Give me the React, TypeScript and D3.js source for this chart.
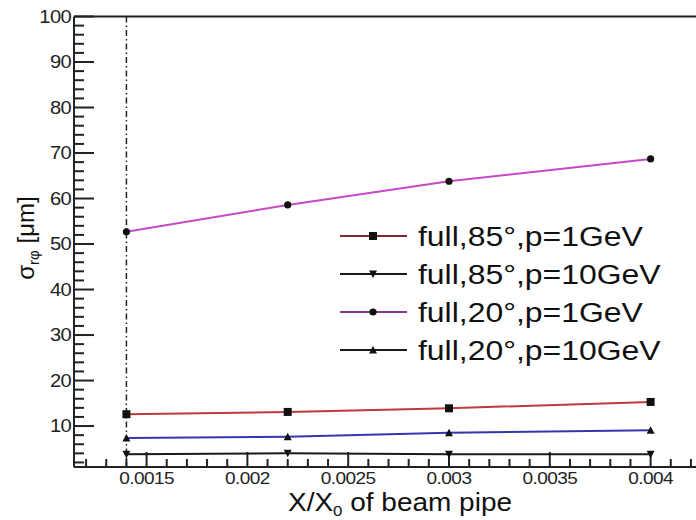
import { useRef, useEffect } from 'react';
import * as d3 from 'd3';

// X/X0 of the beam pipe
const xValues = [0.0014, 0.0022, 0.003, 0.004];

// sigma_rphi in um
const full85p1 = [12.6, 13.1, 13.9, 15.3];
const full85p10 = [3.8, 4.0, 3.8, 3.8];
const full20p1 = [52.7, 58.6, 63.8, 68.7];
const full20p10 = [7.4, 7.65, 8.5, 9.1];

const seriesNames = [
  'full,85°,p=1GeV',
  'full,85°,p=10GeV',
  'full,20°,p=1GeV',
  'full,20°,p=10GeV',
];

const xMajorTicks = [0.0015, 0.002, 0.0025, 0.003, 0.0035, 0.004];
const xTickLabels = ['0.0015', '0.002', '0.0025', '0.003', '0.0035', '0.004'];
const yMajorTicks = [10, 20, 30, 40, 50, 60, 70, 80, 90, 100];

const W = 696;
const H = 520;
const FONT = '"Liberation Sans", Arial, sans-serif';
// the source picture is a bit stretched sideways
const SX = 1.12;

export default function App() {
  const svgRef = useRef<SVGSVGElement>(null);

  useEffect(() => {
    if (!svgRef.current) return;
    const svg = d3.select(svgRef.current);
    svg.selectAll('*').remove();

    const left = 74;
    const top = 16.5;
    const bottom = 467;

    const x = d3.scaleLinear().domain([0.00114, 0.00424]).range([left, 699]);
    const y = d3.scaleLinear().domain([1, 100]).range([bottom, top]);

    const series = [
      { name: seriesNames[0], values: full85p1, color: '#c0393b', legendColor: '#7a2a2a', marker: 'square' },
      { name: seriesNames[1], values: full85p10, color: '#1a1a1a', legendColor: '#1a1a1a', marker: 'down' },
      { name: seriesNames[2], values: full20p1, color: '#c64ac6', legendColor: '#8a3a8a', marker: 'circle' },
      { name: seriesNames[3], values: full20p10, color: '#3535b0', legendColor: '#1a1a1a', marker: 'up' },
    ];

    // frame: top line, left and bottom axes
    svg.append('line')
      .attr('x1', left).attr('x2', W).attr('y1', top).attr('y2', top)
      .attr('stroke', '#222').attr('stroke-width', 2);
    svg.append('line')
      .attr('x1', left).attr('x2', left).attr('y1', top).attr('y2', bottom)
      .attr('stroke', '#222').attr('stroke-width', 2);
    svg.append('line')
      .attr('x1', left).attr('x2', W).attr('y1', bottom).attr('y2', bottom)
      .attr('stroke', '#222').attr('stroke-width', 2);

    // y ticks: minor every 2, major every 10
    const yMinor = d3.range(2, 100, 2).filter(v => v % 10 !== 0);
    svg.append('g').selectAll('line').data(yMinor).join('line')
      .attr('x1', left).attr('x2', left + 10)
      .attr('y1', d => y(d)).attr('y2', d => y(d))
      .attr('stroke', '#222').attr('stroke-width', 2);
    svg.append('g').selectAll('line').data(yMajorTicks).join('line')
      .attr('x1', left).attr('x2', left + 20)
      .attr('y1', d => y(d)).attr('y2', d => y(d))
      .attr('stroke', '#222').attr('stroke-width', 2);
    svg.append('g').selectAll('text').data(yMajorTicks).join('text')
      .attr('transform', d => `translate(${left - 3},${y(d) + 6}) scale(${SX},1)`)
      .attr('text-anchor', 'end')
      .attr('font-family', FONT).attr('font-size', 18)
      .attr('letter-spacing', -0.6)
      .attr('fill', '#222')
      .text(d => d);

    // x ticks: minor every 0.0001, major every 0.0005
    const xMinor = d3.range(12, 43).map(v => v / 10000).filter(v => Math.round(v * 10000) % 5 !== 0);
    svg.append('g').selectAll('line').data(xMinor).join('line')
      .attr('x1', d => x(d)).attr('x2', d => x(d))
      .attr('y1', bottom).attr('y2', bottom - 8)
      .attr('stroke', '#222').attr('stroke-width', 2);
    svg.append('g').selectAll('line').data(xMajorTicks).join('line')
      .attr('x1', d => x(d)).attr('x2', d => x(d))
      .attr('y1', bottom).attr('y2', bottom - 15)
      .attr('stroke', '#222').attr('stroke-width', 2);
    svg.append('g').selectAll('text').data(xMajorTicks).join('text')
      .attr('transform', d => `translate(${x(d)},${bottom + 17}) scale(${SX},1)`)
      .attr('text-anchor', 'middle')
      .attr('font-family', FONT).attr('font-size', 17)
      .attr('letter-spacing', -0.5)
      .attr('fill', '#222')
      .text((d, i) => xTickLabels[i]);

    // dash-dot vertical line at the first point
    svg.append('line')
      .attr('x1', x(xValues[0])).attr('x2', x(xValues[0]))
      .attr('y1', top).attr('y2', bottom)
      .attr('stroke', '#222').attr('stroke-width', 1.5)
      .attr('stroke-dasharray', '6,3,1.5,3');

    const line = d3.line<number>()
      .x((d, i) => x(xValues[i]))
      .y(d => y(d));

    const drawMarker = (g: any, kind: string, cx: number, cy: number) => {
      if (kind === 'square') {
        g.append('rect').attr('x', cx - 4).attr('y', cy - 4).attr('width', 8).attr('height', 8).attr('fill', '#111');
      } else if (kind === 'circle') {
        g.append('circle').attr('cx', cx).attr('cy', cy).attr('r', 3.6).attr('fill', '#111');
      } else if (kind === 'up') {
        g.append('path').attr('d', `M${cx - 4},${cy + 3.5}L${cx + 4},${cy + 3.5}L${cx},${cy - 4}Z`).attr('fill', '#111');
      } else {
        g.append('path').attr('d', `M${cx - 4},${cy - 3.5}L${cx + 4},${cy - 3.5}L${cx},${cy + 4}Z`).attr('fill', '#111');
      }
    };

    series.forEach(s => {
      svg.append('path')
        .datum(s.values)
        .attr('d', line)
        .attr('fill', 'none')
        .attr('stroke', s.color)
        .attr('stroke-width', 2);
      const g = svg.append('g');
      s.values.forEach((v, i) => drawMarker(g, s.marker, x(xValues[i]), y(v)));
    });

    // legend
    const legend = svg.append('g').attr('transform', 'translate(340, 236)');
    series.forEach((s, i) => {
      const row = legend.append('g').attr('transform', `translate(0, ${i * 38})`);
      row.append('line')
        .attr('x1', 0).attr('x2', 67).attr('y1', 0).attr('y2', 0)
        .attr('stroke', s.legendColor).attr('stroke-width', 2);
      drawMarker(row, s.marker, 33, 0);
      row.append('text')
        .attr('transform', `translate(78,10) scale(${SX + 0.02},1)`)
        .attr('font-family', FONT).attr('font-size', 28)
        .attr('fill', '#111')
        .text(s.name);
    });

    // axis titles
    const xt = svg.append('text')
      .attr('transform', `translate(400,511) scale(${SX},1)`)
      .attr('text-anchor', 'middle')
      .attr('font-family', FONT).attr('font-size', 25)
      .attr('fill', '#111');
    xt.append('tspan').text('X/X');
    xt.append('tspan').attr('font-size', 15).attr('dy', 5).text('0');
    xt.append('tspan').attr('dy', -5).text(' of beam pipe');

    const yt = svg.append('text')
      .attr('transform', 'translate(34, 238) rotate(-90)')
      .attr('text-anchor', 'middle')
      .attr('font-family', FONT).attr('font-size', 24)
      .attr('fill', '#111');
    yt.append('tspan').text('σ');
    yt.append('tspan').attr('font-size', 15).attr('dy', 5).text('rφ');
    yt.append('tspan').attr('dy', -5).text(' [μm]');
  }, []);

  return (
    <div style={{ position: 'fixed', left: 0, top: 0 }}>
      <svg ref={svgRef} width={W} height={H} style={{ display: 'block', background: '#fff' }} />
    </div>
  );
}
